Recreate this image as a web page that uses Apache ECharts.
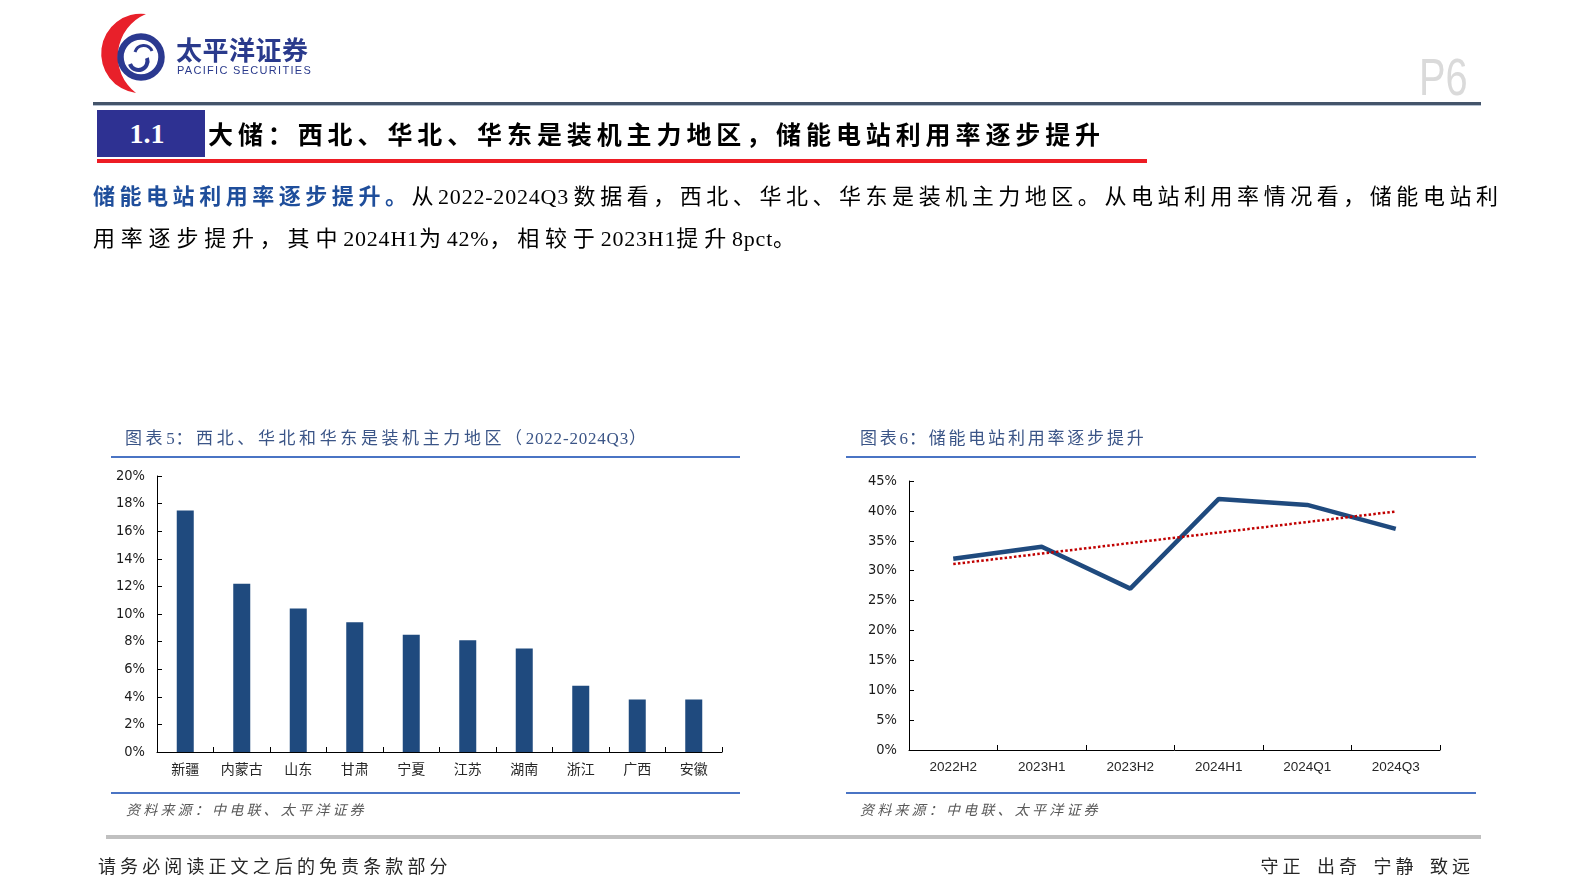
<!DOCTYPE html>
<html><head><meta charset="utf-8">
<script src="https://cdn.jsdelivr.net/npm/echarts@6/dist/echarts.min.js"></script>
<style>
html,body{margin:0;padding:0;background:#fff;}
#page{position:relative;width:1587px;height:892px;overflow:hidden;background:#fff;font-family:"Liberation Serif","Noto Sans CJK SC",serif;}
#chart{position:absolute;left:0;top:0;width:1587px;height:892px;}
.abs{position:absolute;white-space:nowrap;}
.lat{letter-spacing:0.8px;font-family:"Liberation Serif",serif;}
.bar{position:absolute;}
</style></head>
<body>
<div id="page">
  <div id="chart"></div>

  <!-- logo -->
  <svg class="abs" style="left:0;top:0" width="340" height="100" viewBox="0 0 340 100">
    <path d="M146,14 A39.7,39.7 0 0,0 136,93 A46,46 0 0,1 146,14 Z" fill="#e8202a"/>
    <circle cx="141" cy="57" r="20.5" fill="none" stroke="#2b3990" stroke-width="6.5"/>
    <path d="M130,64 A9,9 0 0,0 147,58" fill="none" stroke="#2b3990" stroke-width="4"/>
    <path d="M152,51 A9,9 0 0,0 135,52" fill="none" stroke="#2b3990" stroke-width="3"/>
  </svg>
  <div class="abs" style="left:176px;top:33px;font:bold 26px 'Noto Sans CJK SC';line-height:32px;color:#2a3a8c;letter-spacing:0.5px;">太平洋证券</div>
  <div class="abs" style="left:177px;top:64px;font:11px 'Liberation Sans';line-height:13px;color:#2a3a8c;letter-spacing:1.3px;">PACIFIC SECURITIES</div>

  <div class="abs" style="left:1419px;top:50px;font:51px 'Liberation Sans';line-height:56px;color:#dadada;transform:scaleX(0.78);transform-origin:left center;">P6</div>

  <div class="bar" style="left:93px;top:102px;width:1388px;height:3px;background:#44546a;"></div>
  <div class="bar" style="left:93px;top:105px;width:1388px;height:1px;background:#b4c0d0;"></div>

  <div class="bar" style="left:97px;top:110px;width:108px;height:47px;background:#2e3192;"></div>
  <div class="abs" style="left:97px;top:110px;width:100px;height:47px;font:bold 28px 'Liberation Serif';line-height:47px;text-align:center;color:#fff;">1.1</div>
  <div class="abs" style="left:208px;top:116px;font:bold 25px 'Noto Sans CJK SC';line-height:34px;letter-spacing:4.9px;color:#000;">大储：西北、华北、华东是装机主力地区，储能电站利用率逐步提升</div>
  <div class="bar" style="left:97px;top:159px;width:1050px;height:4px;background:#ed1c24;"></div>

  <div class="abs" style="left:93px;top:182px;width:1405px;line-height:30px;font-size:22px;text-align:justify;text-align-last:justify;color:#000;"><span style="color:#1f4e9b;font-weight:bold;">储能电站利用率逐步提升。</span>从<span class="lat">2022-2024Q3</span>数据看，西北、华北、华东是装机主力地区。从电站利用率情况看，储能电站利</div>
  <div class="abs" style="left:93px;top:224px;line-height:30px;font-size:22px;letter-spacing:5.8px;color:#000;">用率逐步提升，其中<span class="lat">2024H1</span>为<span class="lat">42%</span>，相较于<span class="lat">2023H1</span>提升<span class="lat">8pct</span>。</div>

  <!-- chart frames -->
  <div class="abs" style="left:125px;top:427px;line-height:24px;font-size:17px;letter-spacing:3.6px;color:#3b5587;">图表<span class="lat">5</span>：西北、华北和华东是装机主力地区（<span class="lat">2022-2024Q3</span>）</div>
  <div class="bar" style="left:111px;top:456px;width:629px;height:2px;background:#4a74c4;"></div>
  <div class="bar" style="left:111px;top:792px;width:629px;height:2px;background:#4a74c4;"></div>
  <div class="abs" style="left:126px;top:800px;line-height:22px;font-size:14px;font-style:italic;letter-spacing:3.2px;color:#595959;">资料来源：中电联、太平洋证券</div>

  <div class="abs" style="left:860px;top:427px;line-height:24px;font-size:17px;letter-spacing:2.8px;color:#3b5587;">图表<span class="lat">6</span>：储能电站利用率逐步提升</div>
  <div class="bar" style="left:846px;top:456px;width:630px;height:2px;background:#4a74c4;"></div>
  <div class="bar" style="left:846px;top:792px;width:630px;height:2px;background:#4a74c4;"></div>
  <div class="abs" style="left:860px;top:800px;line-height:22px;font-size:14px;font-style:italic;letter-spacing:3.2px;color:#595959;">资料来源：中电联、太平洋证券</div>

  <!-- footer -->
  <div class="bar" style="left:106px;top:835px;width:1375px;height:4px;background:#c0c0c0;"></div>
  <div class="abs" style="left:98px;top:854px;line-height:26px;font-size:18px;letter-spacing:4.1px;color:#262626;">请务必阅读正文之后的免责条款部分</div>
  <div class="abs" style="right:113px;top:854px;line-height:26px;font-size:18px;letter-spacing:4px;word-spacing:4px;color:#262626;">守正 出奇 宁静 致远</div>
</div>
<script>
// ---- data ----
const regions = ['新疆', '内蒙古', '山东', '甘肃', '宁夏', '江苏', '湖南', '浙江', '广西', '安徽'];
const regionShare = [17.5, 12.2, 10.4, 9.4, 8.5, 8.1, 7.5, 4.8, 3.8, 3.8];
const periods = ['2022H2', '2023H1', '2023H2', '2024H1', '2024Q1', '2024Q3'];
const utilization = [32, 34, 27, 42, 41, 37];
const trendEnds = [31.1, null, null, null, null, 39.9];

const narrow = "'Liberation Sans Narrow','Arial Narrow','DejaVu Sans Condensed',sans-serif";
const axisLine = { show: true, lineStyle: { color: '#000', width: 1 } };
const axisTick = { show: true, inside: true, length: 5, lineStyle: { color: '#000', width: 1 } };

const chart = echarts.init(document.getElementById('chart'), null, { renderer: 'canvas' });
chart.setOption({
  animation: false,
  grid: [
    { left: 157, top: 476, width: 565, height: 276 },
    { left: 909, top: 481, width: 531, height: 269 }
  ],
  xAxis: [
    { type: 'category', gridIndex: 0, data: regions, axisLine, axisTick,
      axisLabel: { margin: 10, fontSize: 14, color: '#262626', fontFamily: 'Noto Sans CJK SC' } },
    { type: 'category', gridIndex: 1, data: periods, axisLine, axisTick,
      axisLabel: { margin: 10, fontSize: 13.5, color: '#262626', fontFamily: 'Liberation Sans' } }
  ],
  yAxis: [
    { type: 'value', gridIndex: 0, min: 0, max: 20, interval: 2, axisLine, axisTick,
      splitLine: { show: false },
      axisLabel: { formatter: '{value}%', margin: 12, fontSize: 14.5, color: '#1a1a1a', fontFamily: narrow } },
    { type: 'value', gridIndex: 1, min: 0, max: 45, interval: 5, axisLine, axisTick,
      splitLine: { show: false },
      axisLabel: { formatter: '{value}%', margin: 12, fontSize: 14.5, color: '#1a1a1a', fontFamily: narrow } }
  ],
  series: [
    { type: 'bar', xAxisIndex: 0, yAxisIndex: 0, data: regionShare, barWidth: 17,
      itemStyle: { color: '#1F4A7E' } },
    { type: 'line', xAxisIndex: 1, yAxisIndex: 1, data: utilization, symbol: 'none', z: 3,
      lineStyle: { color: '#1F4A7E', width: 4.5 } },
    { type: 'line', xAxisIndex: 1, yAxisIndex: 1, data: trendEnds, connectNulls: true, symbol: 'none', z: 4,
      lineStyle: { color: '#C00000', width: 2.5, type: [2.5, 2.2] } }
  ]
});
</script>
</body></html>
